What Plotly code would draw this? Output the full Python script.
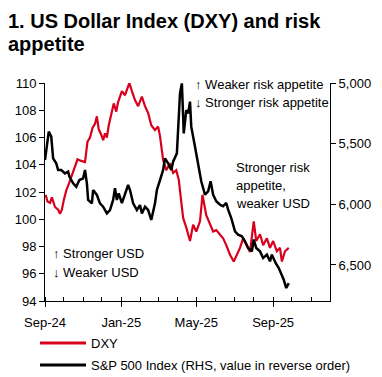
import plotly.graph_objects as go

# ---------------- data ----------------
dxy_dates = [
    "2024-09-02", "2024-09-05", "2024-09-09", "2024-09-12", "2024-09-17", "2024-09-22",
    "2024-09-25", "2024-09-28", "2024-10-01", "2024-10-05", "2024-10-10", "2024-10-15",
    "2024-10-20", "2024-10-23", "2024-10-28", "2024-11-04", "2024-11-08", "2024-11-12",
    "2024-11-16", "2024-11-20", "2024-11-23", "2024-11-26", "2024-11-30", "2024-12-03",
    "2024-12-06", "2024-12-09", "2024-12-12", "2024-12-17", "2024-12-20", "2024-12-24",
    "2024-12-27", "2025-01-02", "2025-01-07", "2025-01-10", "2025-01-14", "2025-01-18",
    "2025-01-23", "2025-01-28", "2025-02-03", "2025-02-08", "2025-02-13", "2025-02-18",
    "2025-02-24", "2025-03-01", "2025-03-04", "2025-03-09", "2025-03-14", "2025-03-20",
    "2025-03-25", "2025-03-30", "2025-04-03", "2025-04-05", "2025-04-10", "2025-04-15",
    "2025-04-21", "2025-04-26", "2025-05-01", "2025-05-07", "2025-05-11", "2025-05-17",
    "2025-05-23", "2025-05-28", "2025-06-02", "2025-06-08", "2025-06-13", "2025-06-18",
    "2025-06-24", "2025-06-30", "2025-07-05", "2025-07-10", "2025-07-15", "2025-07-21",
    "2025-07-26", "2025-08-01", "2025-08-05", "2025-08-11", "2025-08-16", "2025-08-22",
    "2025-08-27", "2025-09-01", "2025-09-07", "2025-09-12", "2025-09-15", "2025-09-20",
    "2025-09-26",
]
dxy_values = [
    101.8, 101.3, 101.2, 101.6, 100.9, 100.7,
    100.4, 100.7, 101.4, 102.1, 102.7, 103.3,
    103.9, 104.4, 104.3, 104.2, 105.7, 106.0,
    106.7, 107.0, 107.55, 106.6, 106.2, 105.8,
    106.3, 106.0, 106.9, 107.9, 108.5, 107.9,
    108.6, 109.4, 109.1, 109.5, 110.0, 109.4,
    108.75, 108.3, 109.0, 108.3, 107.8, 106.9,
    106.55, 106.8, 106.1, 104.35, 103.6, 104.1,
    103.4, 103.6, 102.9, 102.1, 100.1, 99.4,
    98.4, 99.6, 99.1, 99.85, 101.8, 100.3,
    99.6, 99.1, 99.2, 98.9, 98.6, 98.1,
    97.4, 96.9, 97.4, 97.9, 98.6, 98.1,
    97.6, 99.85, 98.4, 98.9, 98.1, 98.6,
    97.9, 98.4, 97.65, 97.9, 96.9, 97.65,
    97.9,
]

spx_dates = [
    "2024-09-01", "2024-09-03", "2024-09-07", "2024-09-11", "2024-09-14", "2024-09-19",
    "2024-09-22", "2024-09-27", "2024-10-03", "2024-10-08", "2024-10-10", "2024-10-16",
    "2024-10-21", "2024-10-26", "2024-11-01", "2024-11-04", "2024-11-07", "2024-11-09",
    "2024-11-15", "2024-11-17", "2024-11-23", "2024-11-28", "2024-12-03", "2024-12-09",
    "2024-12-14", "2024-12-19", "2024-12-22", "2024-12-25", "2024-12-28", "2025-01-02",
    "2025-01-07", "2025-01-12", "2025-01-15", "2025-01-20", "2025-01-26", "2025-01-31",
    "2025-02-03", "2025-02-08", "2025-02-13", "2025-02-18", "2025-02-24", "2025-02-27",
    "2025-03-04", "2025-03-09", "2025-03-12", "2025-03-17", "2025-03-22", "2025-03-25",
    "2025-03-31", "2025-04-03", "2025-04-05", "2025-04-08", "2025-04-09", "2025-04-11",
    "2025-04-15", "2025-04-18", "2025-04-21", "2025-04-23", "2025-04-29", "2025-05-04",
    "2025-05-09", "2025-05-15", "2025-05-20", "2025-05-24", "2025-05-28", "2025-06-02",
    "2025-06-08", "2025-06-13", "2025-06-18", "2025-06-21", "2025-06-26", "2025-07-02",
    "2025-07-07", "2025-07-13", "2025-07-18", "2025-07-23", "2025-07-29", "2025-08-01",
    "2025-08-05", "2025-08-11", "2025-08-16", "2025-08-22", "2025-08-27", "2025-08-30",
    "2025-09-05", "2025-09-10", "2025-09-15", "2025-09-18", "2025-09-22", "2025-09-26",
]
spx_values = [
    5635, 5552, 5401, 5442, 5621, 5662,
    5717, 5717, 5745, 5731, 5772, 5827,
    5855, 5800, 5786, 5717, 5827, 5964,
    5992, 5882, 5923, 5992, 6020, 6075,
    6047, 5964, 5868, 5964, 5909, 5990,
    5923, 5841, 5882, 5992, 6047, 6006,
    6075, 6020, 6047, 6129, 5992, 5882,
    5800, 5717, 5621, 5662, 5717, 5648,
    5580, 5332, 5085, 5003, 5140, 5415,
    5223, 5250, 5154, 5360, 5525, 5662,
    5810, 5921, 5893, 5810, 5921, 5975,
    6003, 6016, 5989, 6044, 6113, 6223,
    6251, 6264, 6305, 6360, 6388, 6290,
    6360, 6388, 6443, 6415, 6470, 6415,
    6484, 6525, 6580, 6622, 6690, 6650,
]

left_ticks = [94, 96, 98, 100, 102, 104, 106, 108, 110]
right_ticks = [5000, 5500, 6000, 6500]

title_line1 = "1. US Dollar Index (DXY) and risk"
title_line2 = "appetite"
series_names = ["DXY", "S&P 500 Index (RHS, value in reverse order)"]

# ---------------- layout geometry ----------------
W, H = 382, 377
L, R, T, B = 45, 330, 83, 301
PW, PH = R - L, B - T
FONT = "Liberation Sans, Arial, sans-serif"
RED = "#D8001C"


def px(x):
    return (x - L) / PW


def py(y):
    return (B - y) / PH


fig = go.Figure()
fig.add_trace(go.Scatter(x=dxy_dates, y=dxy_values, mode="lines", name=series_names[0],
                         line=dict(color=RED, width=2.2), yaxis="y", showlegend=False))
fig.add_trace(go.Scatter(x=spx_dates, y=spx_values, mode="lines", name=series_names[1],
                         line=dict(color="black", width=2.5), yaxis="y2", showlegend=False))

annotations = []


def text(x, y, s, size=13, bold=False, anchor="left"):
    annotations.append(dict(
        xref="paper", yref="paper", x=px(x), y=py(y), text=("<b>%s</b>" % s) if bold else s,
        showarrow=False, xanchor=anchor, yanchor="middle",
        font=dict(family=FONT, size=size, color="black")))


text(6, 21, title_line1, size=20, bold=True)
text(6, 44, title_line2, size=20, bold=True)
text(51, 253, "↑ Stronger USD")
text(51, 272, "↓ Weaker USD")
text(193, 84, "↑ Weaker risk appetite")
text(193, 102, "↓ Stronger risk appetite")
text(234, 167, "Stronger risk")
text(234, 185, "appetite,")
text(234, 203, "weaker USD")
text(89, 343, series_names[0])
text(89, 365, series_names[1])

shapes = [
    dict(type="line", xref="paper", yref="paper", x0=px(40), x1=px(86), y0=py(343), y1=py(343),
         line=dict(color=RED, width=3)),
    dict(type="line", xref="paper", yref="paper", x0=px(40), x1=px(86), y0=py(365), y1=py(365),
         line=dict(color="black", width=3)),
]

fig.update_layout(
    width=W, height=H,
    margin=dict(l=L, r=W - R, t=T, b=H - B, pad=0),
    paper_bgcolor="white", plot_bgcolor="white",
    font=dict(family=FONT, size=13, color="black"),
    showlegend=False,
    hovermode=False,
    annotations=annotations,
    shapes=shapes,
    xaxis=dict(
        type="date", range=["2024-09-01", "2025-12-01"],
        tick0="2024-09-01", dtick="M4", tickformat="%b-%y",
        showgrid=False, zeroline=False,
        showline=True, linecolor="black", linewidth=1,
        ticks="outside", ticklen=5, tickcolor="black", tickwidth=1,
        minor=dict(dtick="M1", tick0="2024-09-01", ticks="inside", ticklen=4,
                   tickcolor="black", tickwidth=1, showgrid=False),
        tickfont=dict(size=13), ticklabelstandoff=4,
    ),
    yaxis=dict(
        range=[94, 110], tickvals=left_ticks,
        showgrid=False, zeroline=False,
        showline=True, linecolor="black", linewidth=1,
        ticks="outside", ticklen=5, tickcolor="black",
        tickfont=dict(size=13),
    ),
    yaxis2=dict(
        overlaying="y", side="right", range=[6797, 5000],
        tickvals=right_ticks, tickformat=",",
        showgrid=False, zeroline=False,
        showline=True, linecolor="black", linewidth=1,
        ticks="outside", ticklen=5, tickcolor="black",
        tickfont=dict(size=13),
    ),
)

fig.write_html(
    "out.html",
    config={"displayModeBar": False, "staticPlot": True},
    post_script="document.body.style.margin='0';document.body.style.padding='0';"
                "document.body.style.overflow='hidden';",
)
